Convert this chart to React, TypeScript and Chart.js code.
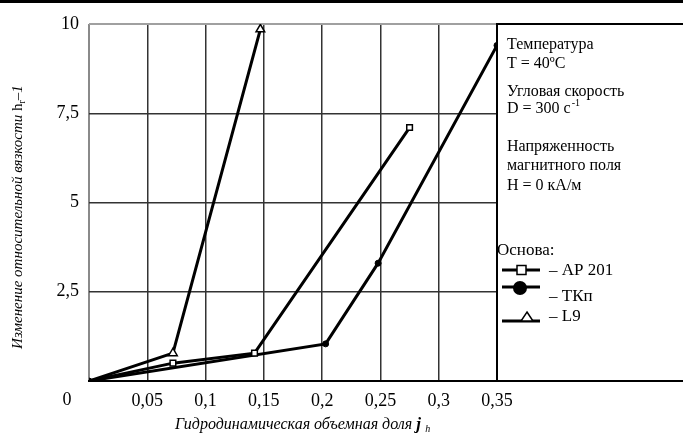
import React, { useEffect, useRef } from 'react';
import { Chart, registerables } from 'chart.js';
Chart.register(...registerables);

// ---- data ----
const xTicks = [0, 0.05, 0.1, 0.15, 0.2, 0.25, 0.3, 0.35];
const yTicks = [0, 2.5, 5, 7.5, 10];
const seriesNames = ['AP 201', 'ТКп', 'L9'];
const apX = [0, 0.072, 0.142, 0.275];
const apY = [0, 0.5, 0.78, 7.1];
const tkX = [0, 0.203, 0.248, 0.35];
const tkY = [0, 1.04, 3.3, 9.4];
const l9X = [0, 0.072, 0.147];
const l9Y = [0, 0.78, 9.85];
const infoLines = ['Температура', 'T = 40ºC', 'Угловая скорость', 'D = 300 с', 'Напряженность', 'магнитного поля', 'H = 0 кА/м'];
const legendTitle = 'Основа:';
const yTitle = 'Изменение относительной вязкости ';
const xTitle = 'Гидродинамическая объемная доля ';

const SERIF = '"Liberation Serif", "Times New Roman", serif';

const fmt = (v: number) => String(parseFloat(v.toFixed(2))).replace('.', ',');

const overlay = {
  id: 'overlay',
  afterDraw(chart: any) {
    const ctx = chart.ctx as CanvasRenderingContext2D;
    const ca = chart.chartArea;
    const xs = chart.scales.x;
    ctx.save();
    // top frame line
    ctx.fillStyle = '#000';
    ctx.fillRect(0, 0, 683, 3);
    // side box
    ctx.strokeStyle = '#000';
    ctx.lineWidth = 2;
    ctx.beginPath();
    ctx.moveTo(ca.right, ca.top);
    ctx.lineTo(683, ca.top);
    ctx.moveTo(ca.right, ca.top - 1);
    ctx.lineTo(ca.right, ca.bottom);
    ctx.moveTo(ca.left, ca.bottom);
    ctx.lineTo(683, ca.bottom);
    ctx.stroke();

    // "0" label of the x axis (shifted left in the original)
    ctx.fillStyle = '#000';
    ctx.font = `18px ${SERIF}`;
    ctx.textAlign = 'center';
    ctx.textBaseline = 'middle';
    ctx.fillText(fmt(xTicks[0]), xs.getPixelForValue(xTicks[0]) - 22, 400);

    // info text in the box
    ctx.textAlign = 'left';
    ctx.textBaseline = 'middle';
    const infoY = [45, 64, 92, 109, 147, 166, 186];
    infoLines.forEach((t, i) => {
      ctx.font = `16px ${SERIF}`;
      ctx.fillText(t, 507, infoY[i]);
      if (i === 3) {
        const w = ctx.measureText(t).width;
        ctx.font = `10px ${SERIF}`;
        ctx.fillText('-1', 507 + w + 1, infoY[i] - 6);
      }
    });

    // legend
    ctx.font = `17px ${SERIF}`;
    ctx.fillText(legendTitle, 497, 251);
    ctx.lineWidth = 3;
    // AP 201
    ctx.beginPath(); ctx.moveTo(502, 270); ctx.lineTo(540, 270); ctx.stroke();
    ctx.fillStyle = '#fff';
    ctx.lineWidth = 1.5;
    ctx.fillRect(517, 265.5, 9, 9); ctx.strokeRect(517, 265.5, 9, 9);
    // TKp
    ctx.lineWidth = 3;
    ctx.beginPath(); ctx.moveTo(502, 287); ctx.lineTo(540, 287); ctx.stroke();
    ctx.fillStyle = '#000';
    ctx.beginPath(); ctx.arc(520, 288, 7, 0, Math.PI * 2); ctx.fill();
    // L9
    ctx.beginPath(); ctx.moveTo(502, 321); ctx.lineTo(540, 321); ctx.stroke();
    ctx.fillStyle = '#fff';
    ctx.lineWidth = 1.5;
    ctx.beginPath(); ctx.moveTo(527, 312); ctx.lineTo(533, 321); ctx.lineTo(521, 321); ctx.closePath(); ctx.fill(); ctx.stroke();
    ctx.fillStyle = '#000';
    ctx.font = `17px ${SERIF}`;
    ctx.fillText('– ' + seriesNames[0], 549, 271);
    ctx.fillText('– ' + seriesNames[1], 549, 297);
    ctx.fillText('– ' + seriesNames[2], 549, 317);

    // x title
    ctx.textBaseline = 'alphabetic';
    ctx.font = `italic 16px ${SERIF}`;
    let x = 175;
    ctx.fillText(xTitle, x, 429);
    x += ctx.measureText(xTitle).width;
    ctx.font = `italic bold 17px ${SERIF}`;
    ctx.fillText('j', x, 429);
    x += ctx.measureText('j ').width;
    ctx.font = `italic 10px ${SERIF}`;
    ctx.fillText('h', x, 432);

    // y title (rotated)
    ctx.translate(18, 217);
    ctx.rotate(-Math.PI / 2);
    ctx.font = `italic 15px ${SERIF}`;
    const w1 = ctx.measureText(yTitle).width;
    ctx.font = `15px ${SERIF}`;
    const w2 = ctx.measureText('h').width;
    ctx.font = `10px ${SERIF}`;
    const w3 = ctx.measureText('r').width;
    ctx.font = `italic 15px ${SERIF}`;
    const w4 = ctx.measureText('–1').width;
    let p = -(w1 + w2 + w3 + w4) / 2;
    ctx.textAlign = 'left';
    ctx.textBaseline = 'middle';
    ctx.fillText(yTitle, p, 0); p += w1;
    ctx.font = `15px ${SERIF}`;
    ctx.fillText('h', p, 0); p += w2;
    ctx.font = `10px ${SERIF}`;
    ctx.fillText('r', p, 4); p += w3;
    ctx.font = `italic 15px ${SERIF}`;
    ctx.fillText('–1', p, 0);
    ctx.restore();
  },
};

export default function App() {
  const ref = useRef<HTMLCanvasElement | null>(null);
  useEffect(() => {
    if (!ref.current) return;
    const mk = (xa: number[], ya: number[]) => xa.map((x, i) => ({ x, y: ya[i] }));
    const chart = new Chart(ref.current, {
      type: 'scatter',
      data: {
        datasets: [
          {
            label: seriesNames[0],
            data: mk(apX, apY),
            showLine: true,
            borderColor: '#000',
            borderWidth: 3,
            pointStyle: 'rect',
            pointRadius: apX.map((_, i) => (i === 0 ? 0 : 4)),
            pointBackgroundColor: '#fff',
            pointBorderColor: '#000',
            pointBorderWidth: 1.5,
          },
          {
            label: seriesNames[1],
            data: mk(tkX, tkY),
            showLine: true,
            borderColor: '#000',
            borderWidth: 3,
            pointStyle: 'circle',
            pointRadius: 3,
            pointBackgroundColor: '#000',
            pointBorderColor: '#000',
            pointBorderWidth: 1,
          },
          {
            label: seriesNames[2],
            data: mk(l9X, l9Y),
            showLine: true,
            borderColor: '#000',
            borderWidth: 3,
            pointStyle: 'triangle',
            pointRadius: l9X.map((_, i) => (i === 0 ? 0 : 5)),
            pointBackgroundColor: '#fff',
            pointBorderColor: '#000',
            pointBorderWidth: 1.5,
          },
        ],
      },
      options: {
        animation: false,
        responsive: false,
        devicePixelRatio: 1,
        layout: { padding: { top: 24, right: 186, left: 0, bottom: 0 } },
        plugins: { legend: { display: false }, tooltip: { enabled: false } },
        scales: {
          x: {
            type: 'linear',
            min: xTicks[0],
            max: xTicks[xTicks.length - 1],
            afterFit: (s: any) => { s.height = 54; },
            afterBuildTicks: (s: any) => { s.ticks = xTicks.map((v) => ({ value: v })); },
            ticks: {
              callback: (v: any) => (v === 0 ? '' : fmt(Number(v))),
              color: '#000',
              font: { family: SERIF, size: 18 },
              padding: 9,
              maxRotation: 0,
              autoSkip: false,
            },
            grid: {
              drawTicks: false,
              color: (c: any) => (c.tick && c.tick.value === 0 ? '#8a8a8a' : '#333'),
              lineWidth: (c: any) => (c.tick && c.tick.value === 0 ? 2 : 1.5),
            },
            border: { display: true, color: '#000', width: 2 },
          },
          y: {
            type: 'linear',
            min: yTicks[0],
            max: yTicks[yTicks.length - 1],
            afterFit: (s: any) => { s.width = 89; },
            afterBuildTicks: (s: any) => { s.ticks = yTicks.map((v) => ({ value: v })); },
            ticks: {
              callback: (v: any) => (v === 0 ? '' : fmt(Number(v))),
              color: '#000',
              font: { family: SERIF, size: 18 },
              padding: 10,
              autoSkip: false,
            },
            grid: {
              drawTicks: false,
              color: (c: any) => (c.tick && c.tick.value === 10 ? '#a0a0a0' : c.tick && c.tick.value === 0 ? '#000' : '#333'),
              lineWidth: (c: any) => (c.tick && (c.tick.value === 10 || c.tick.value === 0) ? 2 : 1.5),
            },
            border: { display: false },
          },
        },
      },
      plugins: [overlay],
    });
    return () => chart.destroy();
  }, []);
  return (
    <div style={{ position: 'absolute', left: 0, top: 0, width: 683, height: 435, background: '#fff' }}>
      <canvas ref={ref} width={683} height={435} style={{ display: 'block' }} />
    </div>
  );
}
